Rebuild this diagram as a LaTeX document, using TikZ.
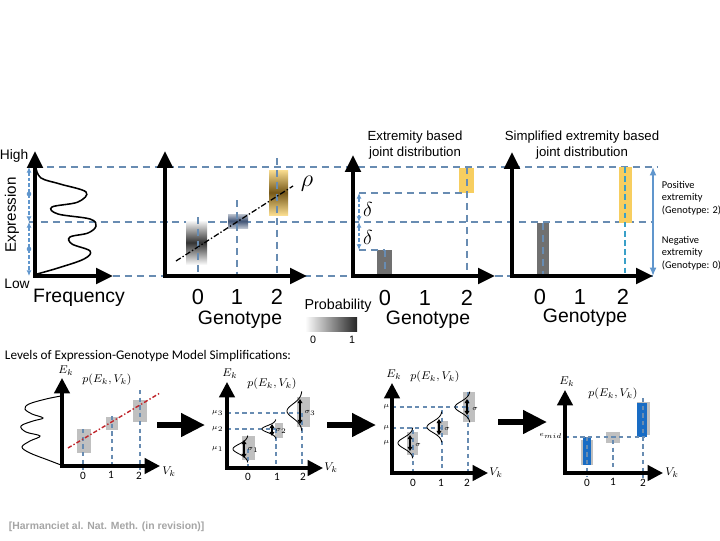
\documentclass[tikz,border=0pt]{standalone}
\usepackage{amsmath}
\usepackage{fontspec}
\setmainfont{Liberation Sans}
\newfontfamily\calfont{Carlito}
\usepackage{xcolor}
\usetikzlibrary{positioning, calc, arrows.meta}

\definecolor{guideblue}{RGB}{104,140,178}
\definecolor{arrowblue}{RGB}{96,150,205}
\definecolor{tealline}{RGB}{58,160,200}
\definecolor{goldbar}{RGB}{247,206,96}
\definecolor{golddark}{RGB}{118,88,24}
\definecolor{steelbox}{RGB}{62,82,115}
\definecolor{darkbar}{RGB}{112,112,112}
\definecolor{lightbar}{RGB}{192,192,192}
\definecolor{deepblue}{RGB}{24,108,196}
\definecolor{fitred}{RGB}{192,38,44}
\definecolor{citegray}{RGB}{165,165,165}

% sideways gaussian: x0, mean, sigma, height
\newcommand\sidebell[4]{\draw[line width=0.6pt] plot[domain=-2.8:2.8, samples=40, smooth]
    ({#1-#4*exp(-0.5*\x*\x)}, {#2+#3*\x});}

\begin{document}
\begin{tikzpicture}[x=0.025cm, y=-0.025cm,
    axes/.style={line width=2.6pt, line join=miter,
                 {Triangle[length=12pt,width=11pt]}-{Triangle[length=12pt,width=11pt]}},
    saxes/.style={line width=2.3pt, line join=miter,
                 {Triangle[length=11pt,width=11pt]}-{Triangle[length=11pt,width=11pt]}},
    guide/.style={guideblue, dash pattern=on 5pt off 3.5pt, line width=0.9pt},
    sguide/.style={guideblue, dash pattern=on 3pt off 2.5pt, line width=0.8pt},
    darr/.style={arrowblue, dash pattern=on 2.5pt off 1.5pt, line width=0.9pt,
                 {Latex[length=4pt,width=3.5pt]}-{Latex[length=4pt,width=3.5pt]}},
    sdarr/.style={line width=1.2pt, {Triangle[length=3pt,width=3.5pt]}-{Triangle[length=3pt,width=3.5pt]}},
    flow/.style={line width=4pt, -{Triangle[length=17pt,width=16pt]}},
    big/.style={font=\fontsize{13.8pt}{16pt}\selectfont},
    tick/.style={font=\fontsize{15.5pt}{17pt}\selectfont},
    ttl/.style={font=\fontsize{9.4pt}{11.4pt}\selectfont, align=center},
    note/.style={font=\calfont\fontsize{7.4pt}{8.9pt}\selectfont, align=left, anchor=west},
    stick/.style={font=\calfont\fontsize{8pt}{9pt}\selectfont},
    mlbl/.style={font=\fontsize{8pt}{9pt}\selectfont},
    mini/.style={font=\fontsize{5pt}{6pt}\selectfont, inner sep=1pt},
]
\fill[white] (0,0) rectangle (720,540);
\useasboundingbox (0,0) rectangle (720,540);

% ---- shared guide lines
\coordinate (hiL) at (35,167);  \coordinate (hiR) at (657,167);
\coordinate (miL) at (29,222);  \coordinate (miR) at (653,222);
\coordinate (loL) at (113,276); \coordinate (loR) at (653,276);
\draw[guide] (hiL) -- (hiR);
\draw[guide] (miL) -- (miR);
\draw[guide] (loL) -- (loR);

% ---- panel 1: marginal
\coordinate (o1) at (35,276); \coordinate (y1) at (35,151); \coordinate (x1) at (113,276);
\draw[line width=1.1pt] plot[smooth, tension=0.6] coordinates {(36,168) (41,178) (60,184) (86,192)
    (78,202) (52,207) (58,214) (90,219) (96,226) (88,233) (70,237) (72,244) (90,251)
    (84,259) (58,268) (37,274)};
\draw[axes] (y1) -- (o1) -- (x1);
\coordinate (e1) at (29,167); \coordinate (e2) at (29,222); \coordinate (e3) at (29,276);
\draw[darr] (e1) -- (e2);
\draw[darr] (e2) -- (e3);
\fill[arrowblue] (29,194) circle (2.3);
\fill[arrowblue] (29,249) circle (2.3);
\node[font=\fontsize{9.8pt}{11pt}\selectfont] (high) at (14,156) {High};
\node[font=\fontsize{9.8pt}{11pt}\selectfont] (low) at (17,284) {Low};
\node[font=\fontsize{10.8pt}{12pt}\selectfont, rotate=90] (expr) at (12,215) {Expression};
\node[big] (freq) at (79,298) {Frequency};

% ---- panel 2: joint distribution
\coordinate (o2) at (165,276); \coordinate (y2) at (165,151); \coordinate (x2) at (307,276);
\shade[top color=white, bottom color=white, middle color=black!80] (186,220) rectangle (207,265);
\shade[top color=steelbox!35, bottom color=steelbox!35, middle color=steelbox] (228,214) rectangle (248,228);
\shade[top color=goldbar!70, bottom color=goldbar!70, middle color=golddark] (269,170) rectangle (288,215);
\coordinate (g0) at (198,217); \coordinate (g1) at (237,200); \coordinate (g2) at (277,158);
\foreach \g/\x in {g0/198, g1/237, g2/277}
    \draw[guide] (\g) -- (\x,276);
\coordinate (fitA) at (176,261); \coordinate (fitB) at (293,186);
\draw[line width=0.9pt, dash pattern=on 4pt off 1.5pt on 1pt off 1.5pt] (fitA) -- (fitB);
\node[font=\fontsize{16pt}{18pt}\selectfont] (rho) at (307,184) {$\rho$};
\draw[axes] (y2) -- (o2) -- (x2);
\node[tick] (t20) at (198,297) {0};
\node[tick] (t21) at (237,297) {1};
\node[tick] (t22) at (277,297) {2};
\node[big] (gen2) at (240,320) {Genotype};

% probability scale
\node[font=\fontsize{10.2pt}{12pt}\selectfont] (prob) at (338,306) {Probability};
\shade[left color=white, right color=black!85] (305,317) rectangle (357,331);
\node[font=\fontsize{7.6pt}{9pt}\selectfont] (p0) at (313,340) {0};
\node[font=\fontsize{7.6pt}{9pt}\selectfont] (p1) at (352,340) {1};

% ---- panel 3: extremity based
\coordinate (o3) at (353,276); \coordinate (y3) at (353,155); \coordinate (x3) at (495,276);
\node[ttl] (ttl3) at (415,145) {Extremity based\\joint distribution};
\fill[goldbar] (459,168) rectangle (474,193);
\fill[darkbar] (377,250) rectangle (392,276);
\coordinate (d1) at (359,193); \coordinate (d2) at (359,222); \coordinate (d3) at (359,250);
\draw[guide] (d1) -- (467,193);
\draw[guide] (d3) -- (385,250);
\draw[guide] (467,167) -- (467,276);
\draw[guide] (385,250) -- (385,276);
\draw[darr] (d1) -- (d2);
\draw[darr] (d2) -- (d3);
\node[font=\fontsize{14pt}{16pt}\selectfont] (del1) at (368,209) {$\delta$};
\node[font=\fontsize{14pt}{16pt}\selectfont] (del2) at (368,237) {$\delta$};
\draw[axes] (y3) -- (o3) -- (x3);
\node[tick] (t30) at (385,298) {0};
\node[tick] (t31) at (425,298) {1};
\node[tick] (t32) at (467,298) {2};
\node[big] (gen3) at (428,320) {Genotype};

% ---- panel 4: simplified
\coordinate (o4) at (512,276); \coordinate (y4) at (512,152); \coordinate (x4) at (653,276);
\node[ttl] (ttl4) at (582,145) {Simplified extremity based\\joint distribution};
\fill[darkbar] (537,223) rectangle (549,276);
\fill[goldbar] (619,167) rectangle (632,223);
\draw[guide] (543,223) -- (543,276);
\draw[tealline, dash pattern=on 4pt off 2.5pt, line width=0.9pt] (625,167) -- (625,276);
\draw[axes] (y4) -- (o4) -- (x4);
\coordinate (ext1) at (653,167); \coordinate (ext2) at (653,276);
\draw[arrowblue, line width=1.4pt, {Latex[length=6pt,width=5pt]}-{Latex[length=6pt,width=5pt]}] (ext1) -- (ext2);
\node[note] (pos) at (657,198) {Positive\\extremity\\(Genotype: 2)};
\node[note] (neg) at (657,253) {Negative\\extremity\\(Genotype: 0)};
\node[tick] (t40) at (540,297) {0};
\node[tick] (t41) at (580,297) {1};
\node[tick] (t42) at (623,297) {2};
\node[big] (gen4) at (585,318) {Genotype};

% ---- lower row
\node[font=\calfont\fontsize{9.4pt}{11pt}\selectfont, anchor=west] (levels) at (0,356)
    {Levels of Expression-Genotype Model Simplifications:};

% panel A
\coordinate (oA) at (62,466); \coordinate (yA) at (62,378); \coordinate (xA) at (160,466);
\draw[line width=0.7pt] plot[smooth, tension=0.6] coordinates {(61,396) (46,399) (29,404) (25,409)
    (32,414) (43,418) (33,421) (21,426) (26,432) (40,436) (30,441) (22,447) (30,453) (48,460) (61,465)};
\fill[lightbar] (77,429) rectangle (91,453);
\fill[lightbar] (106,417) rectangle (118,430);
\fill[lightbar] (133,400) rectangle (147,422);
\foreach \x/\y in {83/429, 112/416, 140/390}
    \draw[sguide] (\x,\y) -- (\x,470);
\coordinate (redA) at (68,448); \coordinate (redB) at (160,393);
\draw[fitred, line width=1pt, dash pattern=on 3pt off 1.5pt on 1pt off 1.5pt] (redA) -- (redB);
\draw[saxes] (yA) -- (oA) -- (xA);
\node[mlbl] (eA) at (66,371) {$E_k$};
\node[mlbl] (pA) at (107,380) {$p(E_k,V_k)$};
\node[mlbl] (vA) at (169,472) {$V_k$};
\node[stick] (a0) at (83,476) {0};
\node[stick] (a1) at (111,475) {1};
\node[stick] (a2) at (139,476) {2};

\coordinate (ab1) at (157,425); \coordinate (ab2) at (205,425);
\draw[flow] (ab1) -- (ab2);

% panel B
\coordinate (oB) at (227,468); \coordinate (yB) at (227,382); \coordinate (xB) at (323,468);
\fill[lightbar] (242,436) rectangle (255,460);
\fill[lightbar] (275,423) rectangle (283,438);
\fill[lightbar] (297,397) rectangle (310,427);
\draw[sguide] (227,413) -- (302,413);
\draw[sguide] (227,429) -- (276,429);
\foreach \x/\y in {248/449, 276/429, 302/413}
    \draw[sguide] (\x,\y) -- (\x,470);
\sidebell{248}{449}{4.8}{15}
\sidebell{276}{429}{3.4}{14}
\sidebell{302}{411}{7}{15}
\draw[sdarr] (244,440) -- (244,458);
\draw[sdarr] (272,424) -- (272,436);
\draw[sdarr] (300,399) -- (300,424);
\node[mini] (sB1) at (253,450) {$\sigma_1$};
\node[mini] (sB2) at (281,431) {$\sigma_2$};
\node[mini] (sB3) at (310,413) {$\sigma_3$};
\node[mini, anchor=east] (mB3) at (225,413) {$\mu_3$};
\node[mini, anchor=east] (mB2) at (225,429) {$\mu_2$};
\node[mini, anchor=east] (mB1) at (225,449) {$\mu_1$};
\draw[saxes] (yB) -- (oB) -- (xB);
\node[mlbl] (eB) at (230,374) {$E_k$};
\node[mlbl] (pB) at (272,384) {$p(E_k,V_k)$};
\node[mlbl] (vB) at (331,468) {$V_k$};
\node[stick] (b0) at (248,477) {0};
\node[stick] (b1) at (277,477) {1};
\node[stick] (b2) at (303,477) {2};

\coordinate (bc1) at (327,425); \coordinate (bc2) at (376,425);
\draw[flow] (bc1) -- (bc2);

% panel C
\coordinate (oC) at (392,473); \coordinate (yC) at (392,383); \coordinate (xC) at (488,473);
\fill[lightbar] (407,432) rectangle (418,455);
\fill[lightbar] (437,421) rectangle (448,435);
\fill[lightbar] (463,392) rectangle (475,422);
\draw[sguide] (392,407) -- (468,407);
\draw[sguide] (392,428) -- (442,428);
\foreach \x/\y in {413/430, 442/410, 468/392}
    \draw[sguide] (\x,\y) -- (\x,475);
\sidebell{413}{443}{5.5}{15}
\sidebell{442}{427}{5.5}{15}
\sidebell{470}{407}{5.5}{15}
\draw[sdarr] (410,435) -- (410,451);
\draw[sdarr] (439,419) -- (439,435);
\draw[sdarr] (467,399) -- (467,415);
\node[mini] (sC1) at (418,445) {$\sigma$};
\node[mini] (sC2) at (447,429) {$\sigma$};
\node[mini] (sC3) at (475,409) {$\sigma$};
\node[mini, anchor=east] (mC3) at (391,407) {$\mu$};
\node[mini, anchor=east] (mC2) at (391,428) {$\mu$};
\node[mini, anchor=east] (mC1) at (391,443) {$\mu$};
\draw[saxes] (yC) -- (oC) -- (xC);
\node[mlbl] (eC) at (394,375) {$E_k$};
\node[mlbl] (pC) at (435,377) {$p(E_k,V_k)$};
\node[mlbl] (vC) at (496,473) {$V_k$};
\node[stick] (c0) at (413,483) {0};
\node[stick] (c1) at (441,483) {1};
\node[stick] (c2) at (467,483) {2};

\coordinate (cd1) at (498,422); \coordinate (cd2) at (547,422);
\draw[flow] (cd1) -- (cd2);

% panel D
\coordinate (oD) at (565,473); \coordinate (yD) at (565,390); \coordinate (xD) at (663,473);
\fill[lightbar] (581,440) rectangle (593,465);
\fill[deepblue] (583,437) rectangle (591,465);
\fill[lightbar] (606,432) rectangle (620,443);
\fill[lightbar] (637,402) rectangle (650,435);
\fill[deepblue] (637,403) rectangle (647,437);
\draw[sguide] (565,437) -- (645,437);
\draw[sguide] (587,437) -- (587,476);
\draw[sguide] (613,440) -- (613,476);
\draw[sguide] (643,398) -- (643,478);
\node[mini, anchor=east] (emid) at (564,436) {$e_{mid}$};
\draw[saxes] (yD) -- (oD) -- (xD);
\node[mlbl] (eD) at (567,382) {$E_k$};
\node[mlbl] (pD) at (613,394) {$p(E_k,V_k)$};
\node[mlbl] (vD) at (672,473) {$V_k$};
\node[stick] (d0) at (587,483) {0};
\node[stick] (d1) at (613,482) {1};
\node[stick] (d2) at (643,483) {2};

% citation
\node[font=\bfseries\fontsize{7.4pt}{8pt}\selectfont, text=citegray, anchor=west] (cite) at (4,527)
    {[Harmanciet al. Nat. Meth. (in revision)]};
\end{tikzpicture}
\end{document}
